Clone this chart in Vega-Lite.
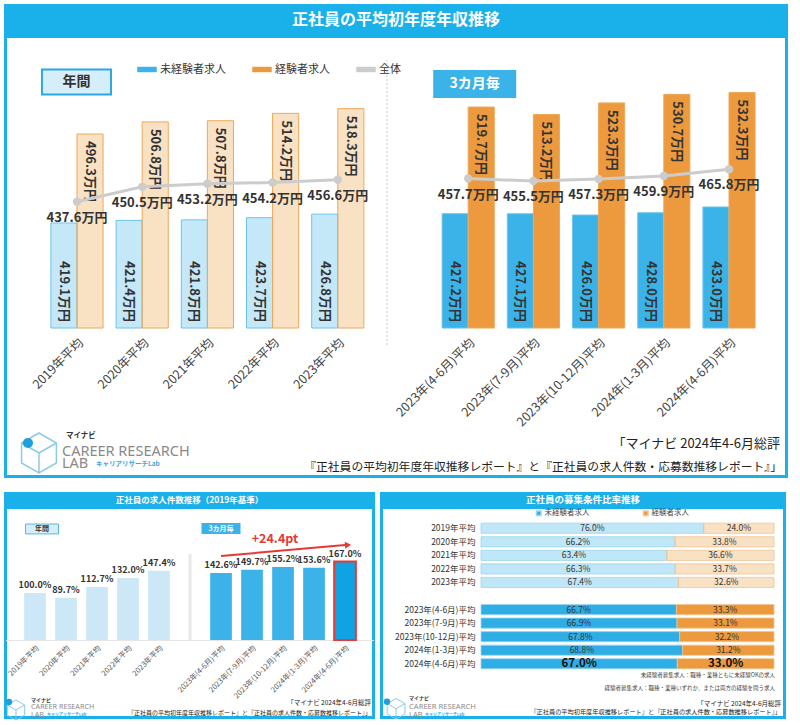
{
  "$schema": "https://vega.github.io/schema/vega-lite/v6.json",
  "background": "#ffffff",
  "padding": {"left": 3.5, "top": 3.5, "right": 3, "bottom": 2},
  "config": {
    "font": "Noto Sans CJK JP",
    "view": {"stroke": null},
    "locale": {"number": {"decimal": ".", "thousands": ",", "grouping": [3], "currency": ["", "万円"]}},
    "axis": {"labelFont": "Noto Sans CJK JP"},
    "legend": {"labelFont": "Noto Sans CJK JP"}
  },
  "datasets": {
    "salary": [
      {"cat": "2019年平均", "period": "年間", "type": "未経験者求人", "v": 419.1},
      {"cat": "2019年平均", "period": "年間", "type": "経験者求人", "v": 496.3},
      {"cat": "2020年平均", "period": "年間", "type": "未経験者求人", "v": 421.4},
      {"cat": "2020年平均", "period": "年間", "type": "経験者求人", "v": 506.8},
      {"cat": "2021年平均", "period": "年間", "type": "未経験者求人", "v": 421.8},
      {"cat": "2021年平均", "period": "年間", "type": "経験者求人", "v": 507.8},
      {"cat": "2022年平均", "period": "年間", "type": "未経験者求人", "v": 423.7},
      {"cat": "2022年平均", "period": "年間", "type": "経験者求人", "v": 514.2},
      {"cat": "2023年平均", "period": "年間", "type": "未経験者求人", "v": 426.8},
      {"cat": "2023年平均", "period": "年間", "type": "経験者求人", "v": 518.3},
      {"cat": "2023年(4-6月)平均", "period": "3カ月毎", "type": "未経験者求人", "v": 427.2},
      {"cat": "2023年(4-6月)平均", "period": "3カ月毎", "type": "経験者求人", "v": 519.7},
      {"cat": "2023年(7-9月)平均", "period": "3カ月毎", "type": "未経験者求人", "v": 427.1},
      {"cat": "2023年(7-9月)平均", "period": "3カ月毎", "type": "経験者求人", "v": 513.2},
      {"cat": "2023年(10-12月)平均", "period": "3カ月毎", "type": "未経験者求人", "v": 426.0},
      {"cat": "2023年(10-12月)平均", "period": "3カ月毎", "type": "経験者求人", "v": 523.3},
      {"cat": "2024年(1-3月)平均", "period": "3カ月毎", "type": "未経験者求人", "v": 428.0},
      {"cat": "2024年(1-3月)平均", "period": "3カ月毎", "type": "経験者求人", "v": 530.7},
      {"cat": "2024年(4-6月)平均", "period": "3カ月毎", "type": "未経験者求人", "v": 433.0},
      {"cat": "2024年(4-6月)平均", "period": "3カ月毎", "type": "経験者求人", "v": 532.3}
    ],
    "total": [
      {"cat": "2019年平均", "period": "年間", "v": 437.6},
      {"cat": "2020年平均", "period": "年間", "v": 450.5},
      {"cat": "2021年平均", "period": "年間", "v": 453.2},
      {"cat": "2022年平均", "period": "年間", "v": 454.2},
      {"cat": "2023年平均", "period": "年間", "v": 456.6},
      {"cat": "2023年(4-6月)平均", "period": "3カ月毎", "v": 457.7},
      {"cat": "2023年(7-9月)平均", "period": "3カ月毎", "v": 455.5},
      {"cat": "2023年(10-12月)平均", "period": "3カ月毎", "v": 457.3},
      {"cat": "2024年(1-3月)平均", "period": "3カ月毎", "v": 459.9},
      {"cat": "2024年(4-6月)平均", "period": "3カ月毎", "v": 465.8}
    ],
    "count": [
      {"cat": "2019年平均", "period": "年間", "v": 1.000},
      {"cat": "2020年平均", "period": "年間", "v": 0.897},
      {"cat": "2021年平均", "period": "年間", "v": 1.127},
      {"cat": "2022年平均", "period": "年間", "v": 1.320},
      {"cat": "2023年平均", "period": "年間", "v": 1.474},
      {"cat": "2023年(4-6月)平均", "period": "3カ月毎", "v": 1.426},
      {"cat": "2023年(7-9月)平均", "period": "3カ月毎", "v": 1.497},
      {"cat": "2023年(10-12月)平均", "period": "3カ月毎", "v": 1.552},
      {"cat": "2024年(1-3月)平均", "period": "3カ月毎", "v": 1.536},
      {"cat": "2024年(4-6月)平均", "period": "3カ月毎", "v": 1.670}
    ],
    "ratio": [
      {"cat": "2019年平均", "period": "年間", "type": "未経験者求人", "v": 0.760},
      {"cat": "2019年平均", "period": "年間", "type": "経験者求人", "v": 0.240},
      {"cat": "2020年平均", "period": "年間", "type": "未経験者求人", "v": 0.662},
      {"cat": "2020年平均", "period": "年間", "type": "経験者求人", "v": 0.338},
      {"cat": "2021年平均", "period": "年間", "type": "未経験者求人", "v": 0.634},
      {"cat": "2021年平均", "period": "年間", "type": "経験者求人", "v": 0.366},
      {"cat": "2022年平均", "period": "年間", "type": "未経験者求人", "v": 0.663},
      {"cat": "2022年平均", "period": "年間", "type": "経験者求人", "v": 0.337},
      {"cat": "2023年平均", "period": "年間", "type": "未経験者求人", "v": 0.674},
      {"cat": "2023年平均", "period": "年間", "type": "経験者求人", "v": 0.326},
      {"cat": "2023年(4-6月)平均", "period": "3カ月毎", "type": "未経験者求人", "v": 0.667},
      {"cat": "2023年(4-6月)平均", "period": "3カ月毎", "type": "経験者求人", "v": 0.333},
      {"cat": "2023年(7-9月)平均", "period": "3カ月毎", "type": "未経験者求人", "v": 0.669},
      {"cat": "2023年(7-9月)平均", "period": "3カ月毎", "type": "経験者求人", "v": 0.331},
      {"cat": "2023年(10-12月)平均", "period": "3カ月毎", "type": "未経験者求人", "v": 0.678},
      {"cat": "2023年(10-12月)平均", "period": "3カ月毎", "type": "経験者求人", "v": 0.322},
      {"cat": "2024年(1-3月)平均", "period": "3カ月毎", "type": "未経験者求人", "v": 0.688},
      {"cat": "2024年(1-3月)平均", "period": "3カ月毎", "type": "経験者求人", "v": 0.312},
      {"cat": "2024年(4-6月)平均", "period": "3カ月毎", "type": "未経験者求人", "v": 0.670},
      {"cat": "2024年(4-6月)平均", "period": "3カ月毎", "type": "経験者求人", "v": 0.330}
    ]
  },
  "spacing": 13,
  "resolve": {"scale": {"color": "independent", "stroke": "independent", "fillOpacity": "independent"}, "legend": {"color": "independent", "stroke": "independent", "fillOpacity": "independent"}},
  "vconcat": [
    {
      "spacing": -3,
      "resolve": {"scale": {"color": "independent", "stroke": "independent", "fillOpacity": "independent"}, "legend": {"color": "independent", "stroke": "independent", "fillOpacity": "independent"}},
      "vconcat": [
        {
          "width": 781, "height": 29,
          "view": {"fill": "#1ab0ea", "stroke": "#1ab0ea", "strokeWidth": 3},
          "data": {"values": [{"t": "正社員の平均初年度年収推移"}]},
          "mark": {"type": "text", "color": "#ffffff", "fontSize": 16, "fontWeight": "bold"},
          "encoding": {"text": {"field": "t"}}
        },
        {
          "width": 781, "height": 440,
          "view": {"fill": "#ffffff", "stroke": "#1ab0ea", "strokeWidth": 3},
          "layer": [
            {
              "data": {"name": "salary"},
              "mark": {"type": "bar", "strokeWidth": 1},
              "encoding": {
                "x": {"field": "cat", "type": "nominal", "sort": null,
                  "scale": {"domain": ["2019年平均", "2020年平均", "2021年平均", "2022年平均", "2023年平均", " ", "2023年(4-6月)平均", "2023年(7-9月)平均", "2023年(10-12月)平均", "2024年(1-3月)平均", "2024年(4-6月)平均"], "paddingInner": 0.2, "paddingOuter": 0.589, "align": 0.591},
                  "axis": {"offset": -148.5, "title": null, "labelAngle": -45, "labelFontSize": 12.5, "labelColor": "#444", "ticks": false, "domain": false, "labelPadding": 8}},
                "xOffset": {"field": "type", "type": "nominal", "scale": {"domain": ["未経験者求人", "経験者求人"], "paddingInner": 0, "paddingOuter": 0}},
                "y": {"field": "v", "type": "quantitative", "scale": {"domain": [199.2, 580.9], "zero": false, "nice": false}, "axis": null},
                "y2": {"datum": 328},
                "color": {"field": "type", "type": "nominal",
                  "scale": {"domain": ["未経験者求人", "経験者求人", "全体"], "range": ["#3bb3e8", "#ec9a3d", "#cccccc"]},
                  "legend": {"orient": "none", "legendX": 131.5, "legendY": 23, "direction": "horizontal", "title": null, "symbolType": "M-1,-0.28H1V0.28H-1Z", "symbolSize": 380, "labelFontSize": 11, "labelColor": "#333", "columnPadding": 26, "symbolStrokeWidth": 0, "labelOffset": 3}},
                "stroke": {"field": "type", "type": "nominal", "scale": {"domain": ["未経験者求人", "経験者求人"], "range": ["#6cc4ec", "#eea85a"]}, "legend": null},
                "fillOpacity": {"field": "period", "type": "nominal", "scale": {"domain": ["年間", "3カ月毎"], "range": [0.3, 1]}, "legend": null}
              }
            },
            {
              "data": {"values": [{}]},
              "mark": {"type": "rule", "color": "#c8c8c8", "strokeDash": [2, 2], "strokeWidth": 1, "xOffset": -16},
              "encoding": {"x": {"datum": " ", "type": "nominal"}, "y": {"datum": 313.3}, "y2": {"datum": 560.5}}
            },
            {
              "data": {"name": "salary"},
              "transform": [{"filter": {"field": "type", "equal": "未経験者求人"}}],
              "mark": {"type": "text", "angle": 90, "align": "right", "baseline": "middle", "fontSize": 13, "fontWeight": "bold", "color": "#333", "yOffset": -6},
              "encoding": {
                "x": {"field": "cat", "type": "nominal"},
                "xOffset": {"field": "type", "type": "nominal"},
                "y": {"datum": 328},
                "text": {"field": "v", "type": "quantitative", "format": "$.1f"}
              }
            },
            {
              "data": {"name": "salary"},
              "transform": [{"filter": {"field": "type", "equal": "経験者求人"}}],
              "mark": {"type": "text", "angle": 90, "align": "left", "baseline": "middle", "fontSize": 13, "fontWeight": "bold", "color": "#333", "yOffset": 7},
              "encoding": {
                "x": {"field": "cat", "type": "nominal"},
                "xOffset": {"field": "type", "type": "nominal"},
                "y": {"field": "v", "type": "quantitative"},
                "text": {"field": "v", "type": "quantitative", "format": "$.1f"}
              }
            },
            {
              "data": {"name": "total"},
              "mark": {"type": "line", "strokeWidth": 3, "point": {"filled": true, "size": 70}},
              "encoding": {
                "x": {"field": "cat", "type": "nominal"},
                "y": {"field": "v", "type": "quantitative"},
                "detail": {"field": "period"},
                "color": {"datum": "全体"}
              }
            },
            {
              "data": {"name": "total"},
              "mark": {"type": "text", "dy": 16, "fontSize": 13, "fontWeight": "bold", "color": "#333"},
              "encoding": {
                "x": {"field": "cat", "type": "nominal"},
                "y": {"field": "v", "type": "quantitative"},
                "text": {"field": "v", "type": "quantitative", "format": "$.1f"}
              }
            },
            {
              "data": {"values": [{"t": "年間"}]},
              "mark": {"type": "point", "shape": "M-1,-0.362H1V0.362H-1Z", "size": 4761, "filled": true, "fill": "#d6eefa", "stroke": "#2aa8e0", "strokeWidth": 2, "opacity": 1, "xOffset": -0.5},
              "encoding": {"x": {"datum": "2019年平均"}, "y": {"datum": 541.4}}
            },
            {
              "data": {"values": [{"t": "年間"}]},
              "mark": {"type": "text", "fontSize": 14, "fontWeight": "bold", "color": "#333", "xOffset": -0.5},
              "encoding": {"x": {"datum": "2019年平均"}, "y": {"datum": 541.4}, "text": {"field": "t"}}
            },
            {
              "data": {"values": [{"t": "3カ月毎"}]},
              "mark": {"type": "point", "shape": "M-1,-0.337H1V0.337H-1Z", "size": 6889, "filled": true, "fill": "#3bb3e8", "opacity": 1, "xOffset": 6.5},
              "encoding": {"x": {"datum": "2023年(4-6月)平均"}, "y": {"datum": 539.7}}
            },
            {
              "data": {"values": [{"t": "3カ月毎"}]},
              "mark": {"type": "text", "fontSize": 14, "fontWeight": "bold", "color": "#ffffff", "xOffset": 6.5},
              "encoding": {"x": {"datum": "2023年(4-6月)平均"}, "y": {"datum": 539.7}, "text": {"field": "t"}}
            },
            {
              "data": {"values": [{"t": "「マイナビ 2024年4-6月総評"}]},
              "mark": {"type": "text", "align": "right", "dx": 51, "fontSize": 13, "color": "#222"},
              "encoding": {"x": {"datum": "2024年(4-6月)平均"}, "y": {"datum": 227.4}, "text": {"field": "t"}}
            },
            {
              "data": {"values": [{"t": "『正社員の平均初年度年収推移レポート』と『正社員の求人件数・応募数推移レポート』」"}]},
              "mark": {"type": "text", "align": "right", "dx": 53, "fontSize": 11.8, "color": "#222"},
              "encoding": {"x": {"datum": "2024年(4-6月)平均"}, "y": {"datum": 207.5}, "text": {"field": "t"}}
            },
            {
              "data": {"values": [{}]},
              "mark": {"type": "point", "shape": "M0,-1L0.87,-0.5L0.87,0.5L0,1L-0.87,0.5L-0.87,-0.5ZM0,0L0,1M0,0L0.87,-0.5M0,0L-0.87,-0.5", "size": 1600, "filled": false, "stroke": "#8ccbe8", "strokeWidth": 1.5, "opacity": 1, "xOffset": -38},
              "encoding": {"x": {"datum": "2019年平均"}, "y": {"datum": 219.6}}
            },
            {
              "data": {"values": [{}]},
              "mark": {"type": "point", "shape": "circle", "size": 100, "filled": true, "fill": "#1e9fdc", "opacity": 1, "xOffset": -49},
              "encoding": {"x": {"datum": "2019年平均"}, "y": {"datum": 228.3}}
            },
            {
              "data": {"values": [{"t": "マイナビ"}]},
              "mark": {"type": "text", "align": "left", "dx": -11, "fontSize": 7.5, "fontWeight": "bold", "color": "#333"},
              "encoding": {"x": {"datum": "2019年平均"}, "y": {"datum": 234.5}, "text": {"field": "t"}}
            },
            {
              "data": {"values": [{"t": "CAREER RESEARCH"}]},
              "mark": {"type": "text", "align": "left", "dx": -15, "fontSize": 14.5, "color": "#8a8a8a", "font": "Noto Sans"},
              "encoding": {"x": {"datum": "2019年平均"}, "y": {"datum": 220.7}, "text": {"field": "t"}}
            },
            {
              "data": {"values": [{"t": "LAB"}]},
              "mark": {"type": "text", "align": "left", "dx": -15, "fontSize": 14.5, "color": "#8a8a8a", "font": "Noto Sans"},
              "encoding": {"x": {"datum": "2019年平均"}, "y": {"datum": 210.1}, "text": {"field": "t"}}
            },
            {
              "data": {"values": [{"t": "キャリアリサーチLab"}]},
              "mark": {"type": "text", "align": "left", "dx": 19, "fontSize": 6.5, "fontWeight": "bold", "color": "#3aa8dc"},
              "encoding": {"x": {"datum": "2019年平均"}, "y": {"datum": 210.1}, "text": {"field": "t"}}
            }
          ]
        }
      ]
    },
    {
      "spacing": 4,
      "resolve": {"scale": {"color": "independent", "stroke": "independent", "fillOpacity": "independent"}, "legend": {"color": "independent", "stroke": "independent", "fillOpacity": "independent"}},
      "hconcat": [
        {
          "spacing": -3,
          "resolve": {"scale": {"color": "independent", "stroke": "independent"}, "legend": {"color": "independent", "stroke": "independent"}},
          "vconcat": [
            {
              "width": 368, "height": 12,
              "view": {"fill": "#1ab0ea", "stroke": "#1ab0ea", "strokeWidth": 3},
              "data": {"values": [{"t": "正社員の求人件数推移（2019年基準）"}]},
              "mark": {"type": "text", "color": "#ffffff", "fontSize": 8.5, "fontWeight": "bold"},
              "encoding": {"text": {"field": "t"}}
            },
            {
              "width": 368, "height": 210,
              "view": {"fill": "#ffffff", "stroke": "#1ab0ea", "strokeWidth": 3},
              "layer": [
                {
                  "data": {"name": "count"},
                  "mark": {"type": "bar", "strokeWidth": 2},
                  "encoding": {
                    "x": {"field": "cat", "type": "nominal", "sort": null,
                      "scale": {"domain": ["2019年平均", "2020年平均", "2021年平均", "2022年平均", "2023年平均", " ", "2023年(4-6月)平均", "2023年(7-9月)平均", "2023年(10-12月)平均", "2024年(1-3月)平均", "2024年(4-6月)平均"], "paddingInner": 0.3, "paddingOuter": 0.585, "align": 0.514},
                      "axis": {"offset": -77.5, "title": null, "labelAngle": -45, "labelFontSize": 7.5, "labelColor": "#555", "ticks": false, "domain": true, "domainColor": "#e6e6e6", "labelPadding": 4}},
                    "y": {"field": "v", "type": "quantitative", "scale": {"domain": [-1.649, 2.819], "zero": false, "nice": false}, "axis": null},
                    "y2": {"datum": 0},
                    "color": {"condition": {"test": "datum.cat === '2024年(4-6月)平均'", "value": "#0fa3e3"}, "field": "period", "type": "nominal", "scale": {"domain": ["年間", "3カ月毎"], "range": ["#cce8f6", "#3bb3e8"]}, "legend": null},
                    "stroke": {"condition": {"test": "datum.cat === '2024年(4-6月)平均'", "value": "#e53935"}, "value": null}
                  }
                },
                {
                  "data": {"values": [{}]},
                  "mark": {"type": "rule", "color": "#e8e8e8", "strokeWidth": 3},
                  "encoding": {"x": {"datum": " ", "type": "nominal"}, "y": {"datum": 0}, "y2": {"datum": 1.83}}
                },
                {
                  "data": {"name": "count"},
                  "mark": {"type": "text", "baseline": "bottom", "dy": -3, "fontSize": 9, "fontWeight": "bold", "color": "#333"},
                  "encoding": {
                    "x": {"field": "cat", "type": "nominal"},
                    "y": {"field": "v", "type": "quantitative"},
                    "text": {"field": "v", "type": "quantitative", "format": ".1%"}
                  }
                },
                {
                  "data": {"values": [{}]},
                  "mark": {"type": "rule", "color": "#e53935", "strokeWidth": 2},
                  "encoding": {"x": {"datum": "2023年(4-6月)平均"}, "x2": {"datum": "2024年(4-6月)平均"}, "y": {"datum": 1.787}, "y2": {"datum": 2.021}}
                },
                {
                  "data": {"values": [{}]},
                  "mark": {"type": "point", "shape": "triangle-right", "size": 50, "angle": -5, "filled": true, "fill": "#e53935", "opacity": 1, "xOffset": 3},
                  "encoding": {"x": {"datum": "2024年(4-6月)平均"}, "y": {"datum": 2.021}}
                },
                {
                  "data": {"values": [{"t": "+24.4pt"}]},
                  "mark": {"type": "text", "dx": -8, "fontSize": 12.5, "fontWeight": "bold", "color": "#e53935"},
                  "encoding": {"x": {"datum": "2023年(10-12月)平均"}, "y": {"datum": 2.149}, "text": {"field": "t"}}
                },
                {
                  "data": {"values": [{"t": "年間"}]},
                  "mark": {"type": "point", "shape": "M-1,-0.3H1V0.3H-1Z", "size": 1089, "filled": true, "fill": "#d6eefa", "stroke": "#5bb8e0", "strokeWidth": 1, "opacity": 1, "xOffset": 7},
                  "encoding": {"x": {"datum": "2019年平均"}, "y": {"datum": 2.362}}
                },
                {
                  "data": {"values": [{"t": "年間"}]},
                  "mark": {"type": "text", "fontSize": 7, "fontWeight": "bold", "color": "#333", "xOffset": 7},
                  "encoding": {"x": {"datum": "2019年平均"}, "y": {"datum": 2.362}, "text": {"field": "t"}}
                },
                {
                  "data": {"values": [{"t": "3カ月毎"}]},
                  "mark": {"type": "point", "shape": "M-1,-0.28H1V0.28H-1Z", "size": 1521, "filled": true, "fill": "#3bb3e8", "opacity": 1},
                  "encoding": {"x": {"datum": "2023年(4-6月)平均"}, "y": {"datum": 2.372}}
                },
                {
                  "data": {"values": [{"t": "3カ月毎"}]},
                  "mark": {"type": "text", "fontSize": 7, "fontWeight": "bold", "color": "#ffffff"},
                  "encoding": {"x": {"datum": "2023年(4-6月)平均"}, "y": {"datum": 2.372}, "text": {"field": "t"}}
                },
                {
                  "data": {"values": [{"t": "「マイナビ 2024年4-6月総評"}]},
                  "mark": {"type": "text", "align": "right", "dx": 26, "fontSize": 6.5, "color": "#222"},
                  "encoding": {"x": {"datum": "2024年(4-6月)平均"}, "y": {"datum": -1.34}, "text": {"field": "t"}}
                },
                {
                  "data": {"values": [{"t": "『正社員の平均初年度年収推移レポート』と『正社員の求人件数・応募数推移レポート』」"}]},
                  "mark": {"type": "text", "align": "right", "dx": 26, "fontSize": 6, "color": "#222"},
                  "encoding": {"x": {"datum": "2024年(4-6月)平均"}, "y": {"datum": -1.553}, "text": {"field": "t"}}
                },
                {
                  "data": {"values": [{}]},
                  "mark": {"type": "point", "shape": "M0,-1L0.87,-0.5L0.87,0.5L0,1L-0.87,0.5L-0.87,-0.5ZM0,0L0,1M0,0L0.87,-0.5M0,0L-0.87,-0.5", "size": 400, "filled": false, "stroke": "#8ccbe8", "strokeWidth": 1, "opacity": 1, "xOffset": -19},
                  "encoding": {"x": {"datum": "2019年平均"}, "y": {"datum": -1.49}}
                },
                {
                  "data": {"values": [{}]},
                  "mark": {"type": "point", "shape": "circle", "size": 40, "filled": true, "fill": "#1e9fdc", "opacity": 1, "xOffset": -26},
                  "encoding": {"x": {"datum": "2019年平均"}, "y": {"datum": -1.32}}
                },
                {
                  "data": {"values": [{"t": "マイナビ"}]},
                  "mark": {"type": "text", "align": "left", "dx": -4, "fontSize": 5, "fontWeight": "bold", "color": "#333"},
                  "encoding": {"x": {"datum": "2019年平均"}, "y": {"datum": -1.28}, "text": {"field": "t"}}
                },
                {
                  "data": {"values": [{"t": "CAREER RESEARCH"}]},
                  "mark": {"type": "text", "align": "left", "dx": -4, "fontSize": 7.2, "color": "#8a8a8a", "font": "Noto Sans"},
                  "encoding": {"x": {"datum": "2019年平均"}, "y": {"datum": -1.43}, "text": {"field": "t"}}
                },
                {
                  "data": {"values": [{"t": "LAB"}]},
                  "mark": {"type": "text", "align": "left", "dx": -4, "fontSize": 7.2, "color": "#8a8a8a", "font": "Noto Sans"},
                  "encoding": {"x": {"datum": "2019年平均"}, "y": {"datum": -1.6}, "text": {"field": "t"}}
                },
                {
                  "data": {"values": [{"t": "キャリアリサーチLab"}]},
                  "mark": {"type": "text", "align": "left", "dx": 12, "fontSize": 4, "fontWeight": "bold", "color": "#3aa8dc"},
                  "encoding": {"x": {"datum": "2019年平均"}, "y": {"datum": -1.6}, "text": {"field": "t"}}
                }
              ]
            }
          ]
        },
        {
          "spacing": -3,
          "resolve": {"scale": {"color": "independent", "stroke": "independent", "fillOpacity": "independent"}, "legend": {"color": "independent", "stroke": "independent", "fillOpacity": "independent"}},
          "vconcat": [
            {
              "width": 403, "height": 12,
              "view": {"fill": "#1ab0ea", "stroke": "#1ab0ea", "strokeWidth": 3},
              "data": {"values": [{"t": "正社員の募集条件比率推移"}]},
              "mark": {"type": "text", "color": "#ffffff", "fontSize": 9.5, "fontWeight": "bold"},
              "encoding": {"text": {"field": "t"}}
            },
            {
              "width": 403, "height": 210,
              "view": {"fill": "#ffffff", "stroke": "#1ab0ea", "strokeWidth": 3},
              "layer": [
                {
                  "data": {"name": "ratio"},
                  "mark": {"type": "bar", "strokeWidth": 0.8},
                  "encoding": {
                    "y": {"field": "cat", "type": "nominal", "sort": null,
                      "scale": {"domain": ["2019年平均", "2020年平均", "2021年平均", "2022年平均", "2023年平均", " ", "2023年(4-6月)平均", "2023年(7-9月)平均", "2023年(10-12月)平均", "2024年(1-3月)平均", "2024年(4-6月)平均", "  ", "   ", "    "], "paddingInner": 0.25, "paddingOuter": 0.874, "align": 0.662},
                      "axis": {"offset": -99.5, "title": null, "labelFontSize": 8.5, "labelColor": "#333", "ticks": false, "domain": false, "labelPadding": 6}},
                    "x": {"field": "v", "type": "quantitative", "stack": "zero", "scale": {"domain": [-0.3396, 1.0358], "zero": false, "nice": false}, "axis": null},
                    "order": {"field": "type", "sort": "ascending"},
                    "color": {"field": "type", "type": "nominal", "scale": {"domain": ["未経験者求人", "経験者求人"], "range": ["#2faee6", "#ec9a3d"]},
                      "legend": {"orient": "none", "legendX": 153.5, "legendY": 2, "direction": "horizontal", "title": null, "symbolType": "square", "symbolSize": 20, "labelFontSize": 7.5, "labelColor": "#444", "columnPadding": 50, "labelOffset": 2}},
                    "stroke": {"field": "type", "type": "nominal", "scale": {"domain": ["未経験者求人", "経験者求人"], "range": ["#9ad6f2", "#f3c490"]}, "legend": null},
                    "fillOpacity": {"field": "period", "type": "nominal", "scale": {"domain": ["年間", "3カ月毎"], "range": [0.3, 1]}, "legend": null}
                  }
                },
                {
                  "data": {"name": "ratio"},
                  "transform": [{"filter": {"not": {"field": "cat", "equal": "2024年(4-6月)平均"}}}],
                  "mark": {"type": "text", "fontSize": 8.5, "color": "#333"},
                  "encoding": {
                    "y": {"field": "cat", "type": "nominal"},
                    "x": {"field": "v", "type": "quantitative", "stack": "zero", "bandPosition": 0.5},
                    "order": {"field": "type", "sort": "ascending"},
                    "detail": {"field": "type"},
                    "text": {"field": "v", "type": "quantitative", "format": ".1%"}
                  }
                },
                {
                  "data": {"name": "ratio"},
                  "transform": [{"filter": {"field": "cat", "equal": "2024年(4-6月)平均"}}],
                  "mark": {"type": "text", "fontSize": 11.5, "fontWeight": "bold", "color": "#111"},
                  "encoding": {
                    "y": {"field": "cat", "type": "nominal"},
                    "x": {"field": "v", "type": "quantitative", "stack": "zero", "bandPosition": 0.5},
                    "order": {"field": "type", "sort": "ascending"},
                    "detail": {"field": "type"},
                    "text": {"field": "v", "type": "quantitative", "format": ".1%"}
                  }
                },
                {
                  "data": {"values": [{"t": "未経験者募集求人：職種・業種ともに未経験OKの求人"}]},
                  "mark": {"type": "text", "align": "right", "dy": 11.5, "fontSize": 5.5, "color": "#444"},
                  "encoding": {"x": {"datum": 1.0034}, "y": {"datum": "2024年(4-6月)平均"}, "text": {"field": "t"}}
                },
                {
                  "data": {"values": [{"t": "経験者募集求人：職種・業種いずれか、または両方の経験を問う求人"}]},
                  "mark": {"type": "text", "align": "right", "dy": 24, "fontSize": 5.5, "color": "#444"},
                  "encoding": {"x": {"datum": 1.0034}, "y": {"datum": "2024年(4-6月)平均"}, "text": {"field": "t"}}
                },
                {
                  "data": {"values": [{"t": "「マイナビ 2024年4-6月総評"}]},
                  "mark": {"type": "text", "align": "right", "dy": 40, "fontSize": 6.5, "color": "#222"},
                  "encoding": {"x": {"datum": 1.0239}, "y": {"datum": "2024年(4-6月)平均"}, "text": {"field": "t"}}
                },
                {
                  "data": {"values": [{"t": "『正社員の平均初年度年収推移レポート』と『正社員の求人件数・応募数推移レポート』」"}]},
                  "mark": {"type": "text", "align": "right", "dy": 48.5, "fontSize": 6.2, "color": "#222"},
                  "encoding": {"x": {"datum": 1.0239}, "y": {"datum": "2024年(4-6月)平均"}, "text": {"field": "t"}}
                },
                {
                  "data": {"values": [{}]},
                  "mark": {"type": "point", "shape": "M0,-1L0.87,-0.5L0.87,0.5L0,1L-0.87,0.5L-0.87,-0.5ZM0,0L0,1M0,0L0.87,-0.5M0,0L-0.87,-0.5", "size": 420, "filled": false, "stroke": "#8ccbe8", "strokeWidth": 1, "opacity": 1, "yOffset": 45},
                  "encoding": {"x": {"datum": -0.29}, "y": {"datum": "2024年(4-6月)平均"}}
                },
                {
                  "data": {"values": [{}]},
                  "mark": {"type": "point", "shape": "circle", "size": 40, "filled": true, "fill": "#1e9fdc", "opacity": 1, "yOffset": 38},
                  "encoding": {"x": {"datum": -0.3208}, "y": {"datum": "2024年(4-6月)平均"}}
                },
                {
                  "data": {"values": [{"t": "マイナビ"}]},
                  "mark": {"type": "text", "align": "left", "dy": 34.5, "fontSize": 5, "fontWeight": "bold", "color": "#333"},
                  "encoding": {"x": {"datum": -0.2457}, "y": {"datum": "2024年(4-6月)平均"}, "text": {"field": "t"}}
                },
                {
                  "data": {"values": [{"t": "CAREER RESEARCH"}]},
                  "mark": {"type": "text", "align": "left", "dy": 43.5, "fontSize": 7.6, "color": "#8a8a8a", "font": "Noto Sans"},
                  "encoding": {"x": {"datum": -0.2457}, "y": {"datum": "2024年(4-6月)平均"}, "text": {"field": "t"}}
                },
                {
                  "data": {"values": [{"t": "LAB"}]},
                  "mark": {"type": "text", "align": "left", "dy": 51.5, "fontSize": 7.6, "color": "#8a8a8a", "font": "Noto Sans"},
                  "encoding": {"x": {"datum": -0.2457}, "y": {"datum": "2024年(4-6月)平均"}, "text": {"field": "t"}}
                },
                {
                  "data": {"values": [{"t": "キャリアリサーチLab"}]},
                  "mark": {"type": "text", "align": "left", "dy": 51.5, "fontSize": 4, "fontWeight": "bold", "color": "#3aa8dc"},
                  "encoding": {"x": {"datum": -0.191}, "y": {"datum": "2024年(4-6月)平均"}, "text": {"field": "t"}}
                }
              ]
            }
          ]
        }
      ]
    }
  ]
}
